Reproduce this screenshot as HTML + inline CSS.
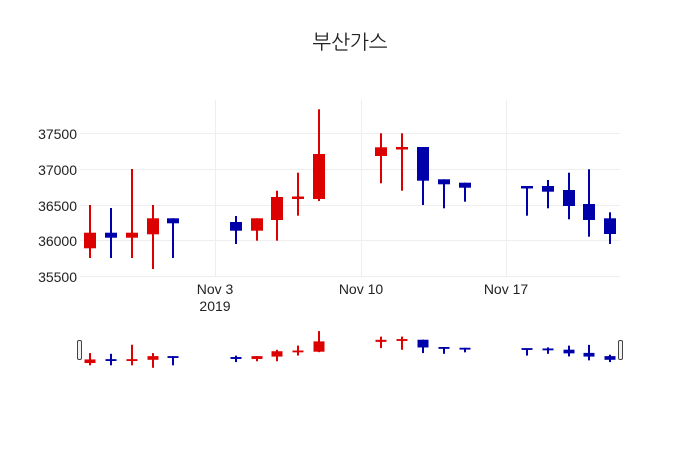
<!DOCTYPE html>
<html><head><meta charset="utf-8"><style>body{margin:0;background:#fff}svg{display:block}</style></head>
<body>
<svg width="700" height="450" xmlns="http://www.w3.org/2000/svg" font-family="'Liberation Sans','Noto Sans CJK KR',sans-serif">
<rect width="700" height="450" fill="#fff"/>
<text x="350" y="49" text-anchor="middle" font-size="20" fill="#222" font-family="'Liberation Sans','NanumGothic','Noto Sans CJK KR',sans-serif">부산가스</text>
<g stroke="#eee" stroke-width="1">
<line x1="80" x2="620" y1="133.5" y2="133.5"/><line x1="80" x2="620" y1="169.5" y2="169.5"/>
<line x1="80" x2="620" y1="205.5" y2="205.5"/><line x1="80" x2="620" y1="240.5" y2="240.5"/>
<line x1="80" x2="620" y1="276.5" y2="276.5"/>
<line x1="215.5" x2="215.5" y1="100" y2="276"/><line x1="361.5" x2="361.5" y1="100" y2="276"/><line x1="506.5" x2="506.5" y1="100" y2="276"/>
</g>
<g font-size="14" fill="#222" text-anchor="end">
<text x="77" y="139">37500</text><text x="77" y="175">37000</text><text x="77" y="211">36500</text><text x="77" y="246">36000</text><text x="77" y="282">35500</text>
</g>
<g font-size="14" fill="#222" text-anchor="middle">
<text x="215" y="294">Nov 3</text><text x="215" y="311">2019</text><text x="361" y="294">Nov 10</text><text x="506" y="294">Nov 17</text>
</g>
<g stroke-width="2">
<g fill="#dd0000" stroke="#dd0000">
<line x1="90" x2="90" y1="205" y2="258"/><rect x="84" y="232.7" width="12" height="15.6" stroke="none"/>
<line x1="132" x2="132" y1="169" y2="258"/><rect x="126" y="232.7" width="12" height="5" stroke="none"/>
<line x1="153" x2="153" y1="205" y2="269"/><rect x="147" y="218.3" width="12" height="16" stroke="none"/>
<line x1="257" x2="257" y1="218.3" y2="240.7"/><rect x="251" y="218.3" width="12" height="12.4" stroke="none"/>
<line x1="277" x2="277" y1="190.7" y2="240.7"/><rect x="271" y="197" width="12" height="23" stroke="none"/>
<line x1="298" x2="298" y1="172.7" y2="215.7"/><rect x="292" y="196.5" width="12" height="2.5" stroke="none"/>
<line x1="319" x2="319" y1="109.3" y2="201"/><rect x="313" y="154" width="12" height="45" stroke="none"/>
<line x1="381" x2="381" y1="133.3" y2="183.3"/><rect x="375" y="147.3" width="12" height="8.7" stroke="none"/>
<line x1="402" x2="402" y1="133.3" y2="190.7"/><rect x="396" y="147" width="12" height="2.5" stroke="none"/>
</g>
<g fill="#0000aa" stroke="#0000aa">
<line x1="111" x2="111" y1="208" y2="258"/><rect x="105" y="232.7" width="12" height="5" stroke="none"/>
<line x1="173" x2="173" y1="218.3" y2="258"/><rect x="167" y="218.3" width="12" height="5" stroke="none"/>
<line x1="236" x2="236" y1="216" y2="244"/><rect x="230" y="222" width="12" height="8.7" stroke="none"/>
<line x1="423" x2="423" y1="147" y2="205"/><rect x="417" y="147" width="12" height="33.7" stroke="none"/>
<line x1="444" x2="444" y1="179.3" y2="208.3"/><rect x="438" y="179.3" width="12" height="5" stroke="none"/>
<line x1="465" x2="465" y1="182.7" y2="201.7"/><rect x="459" y="182.7" width="12" height="5" stroke="none"/>
<line x1="527" x2="527" y1="186" y2="215.7"/><rect x="521" y="186" width="12" height="2.5" stroke="none"/>
<line x1="548" x2="548" y1="180" y2="208.3"/><rect x="542" y="186" width="12" height="5.7" stroke="none"/>
<line x1="569" x2="569" y1="172.7" y2="219.3"/><rect x="563" y="190" width="12" height="16" stroke="none"/>
<line x1="589" x2="589" y1="169.3" y2="236.7"/><rect x="583" y="204" width="12" height="16" stroke="none"/>
<line x1="610" x2="610" y1="212.3" y2="244"/><rect x="604" y="218.3" width="12" height="15.7" stroke="none"/>
</g>
</g>
<g stroke-width="2" transform="translate(0,331) scale(1,0.92) translate(0,-332)">
<g fill="#dd0000" stroke="#dd0000">
<line x1="90" x2="90" y1="356" y2="369.3"/><rect x="84.5" y="362.9" width="11" height="3.9" stroke="none"/>
<line x1="132" x2="132" y1="347" y2="369.3"/><rect x="126.5" y="362.6" width="11" height="2" stroke="none"/>
<line x1="153" x2="153" y1="356" y2="372"/><rect x="147.5" y="359.3" width="11" height="4" stroke="none"/>
<line x1="257" x2="257" y1="359.3" y2="364.9"/><rect x="251.5" y="359.3" width="11" height="3.1" stroke="none"/>
<line x1="277" x2="277" y1="352.4" y2="364.9"/><rect x="271.5" y="354" width="11" height="5.8" stroke="none"/>
<line x1="298" x2="298" y1="347.9" y2="358.7"/><rect x="292.5" y="353.2" width="11" height="2" stroke="none"/>
<line x1="319" x2="319" y1="332.1" y2="355"/><rect x="313.5" y="343.3" width="11" height="11.2" stroke="none"/>
<line x1="381" x2="381" y1="338.1" y2="350.6"/><rect x="375.5" y="341.6" width="11" height="2.2" stroke="none"/>
<line x1="402" x2="402" y1="338.1" y2="352.4"/><rect x="396.5" y="340.8" width="11" height="2" stroke="none"/>
</g>
<g fill="#0000aa" stroke="#0000aa">
<line x1="111" x2="111" y1="356.8" y2="369.3"/><rect x="105.5" y="362.6" width="11" height="2" stroke="none"/>
<line x1="173" x2="173" y1="359.3" y2="369.3"/><rect x="167.5" y="359.3" width="11" height="2" stroke="none"/>
<line x1="236" x2="236" y1="358.8" y2="365.8"/><rect x="230.5" y="360.3" width="11" height="2.1" stroke="none"/>
<line x1="423" x2="423" y1="341.5" y2="356"/><rect x="417.5" y="341.5" width="11" height="8.4" stroke="none"/>
<line x1="444" x2="444" y1="349.6" y2="356.8"/><rect x="438.5" y="349.4" width="11" height="2" stroke="none"/>
<line x1="465" x2="465" y1="350.4" y2="355.2"/><rect x="459.5" y="350.2" width="11" height="2" stroke="none"/>
<line x1="527" x2="527" y1="351.3" y2="358.7"/><rect x="521.5" y="350.6" width="11" height="2" stroke="none"/>
<line x1="548" x2="548" y1="349.8" y2="356.8"/><rect x="542.5" y="351" width="11" height="2" stroke="none"/>
<line x1="569" x2="569" y1="347.9" y2="359.6"/><rect x="563.5" y="352.3" width="11" height="4" stroke="none"/>
<line x1="589" x2="589" y1="347.1" y2="363.9"/><rect x="583.5" y="355.8" width="11" height="4" stroke="none"/>
<line x1="610" x2="610" y1="357.8" y2="365.8"/><rect x="604.5" y="359.3" width="11" height="4" stroke="none"/>
</g>
</g>
<rect x="77.5" y="340.5" width="4" height="19" rx="1.5" fill="#f2f2f2" stroke="#444"/>
<rect x="618.5" y="340.5" width="4" height="19" rx="1.5" fill="#f2f2f2" stroke="#444"/>
</svg>
</body></html>
